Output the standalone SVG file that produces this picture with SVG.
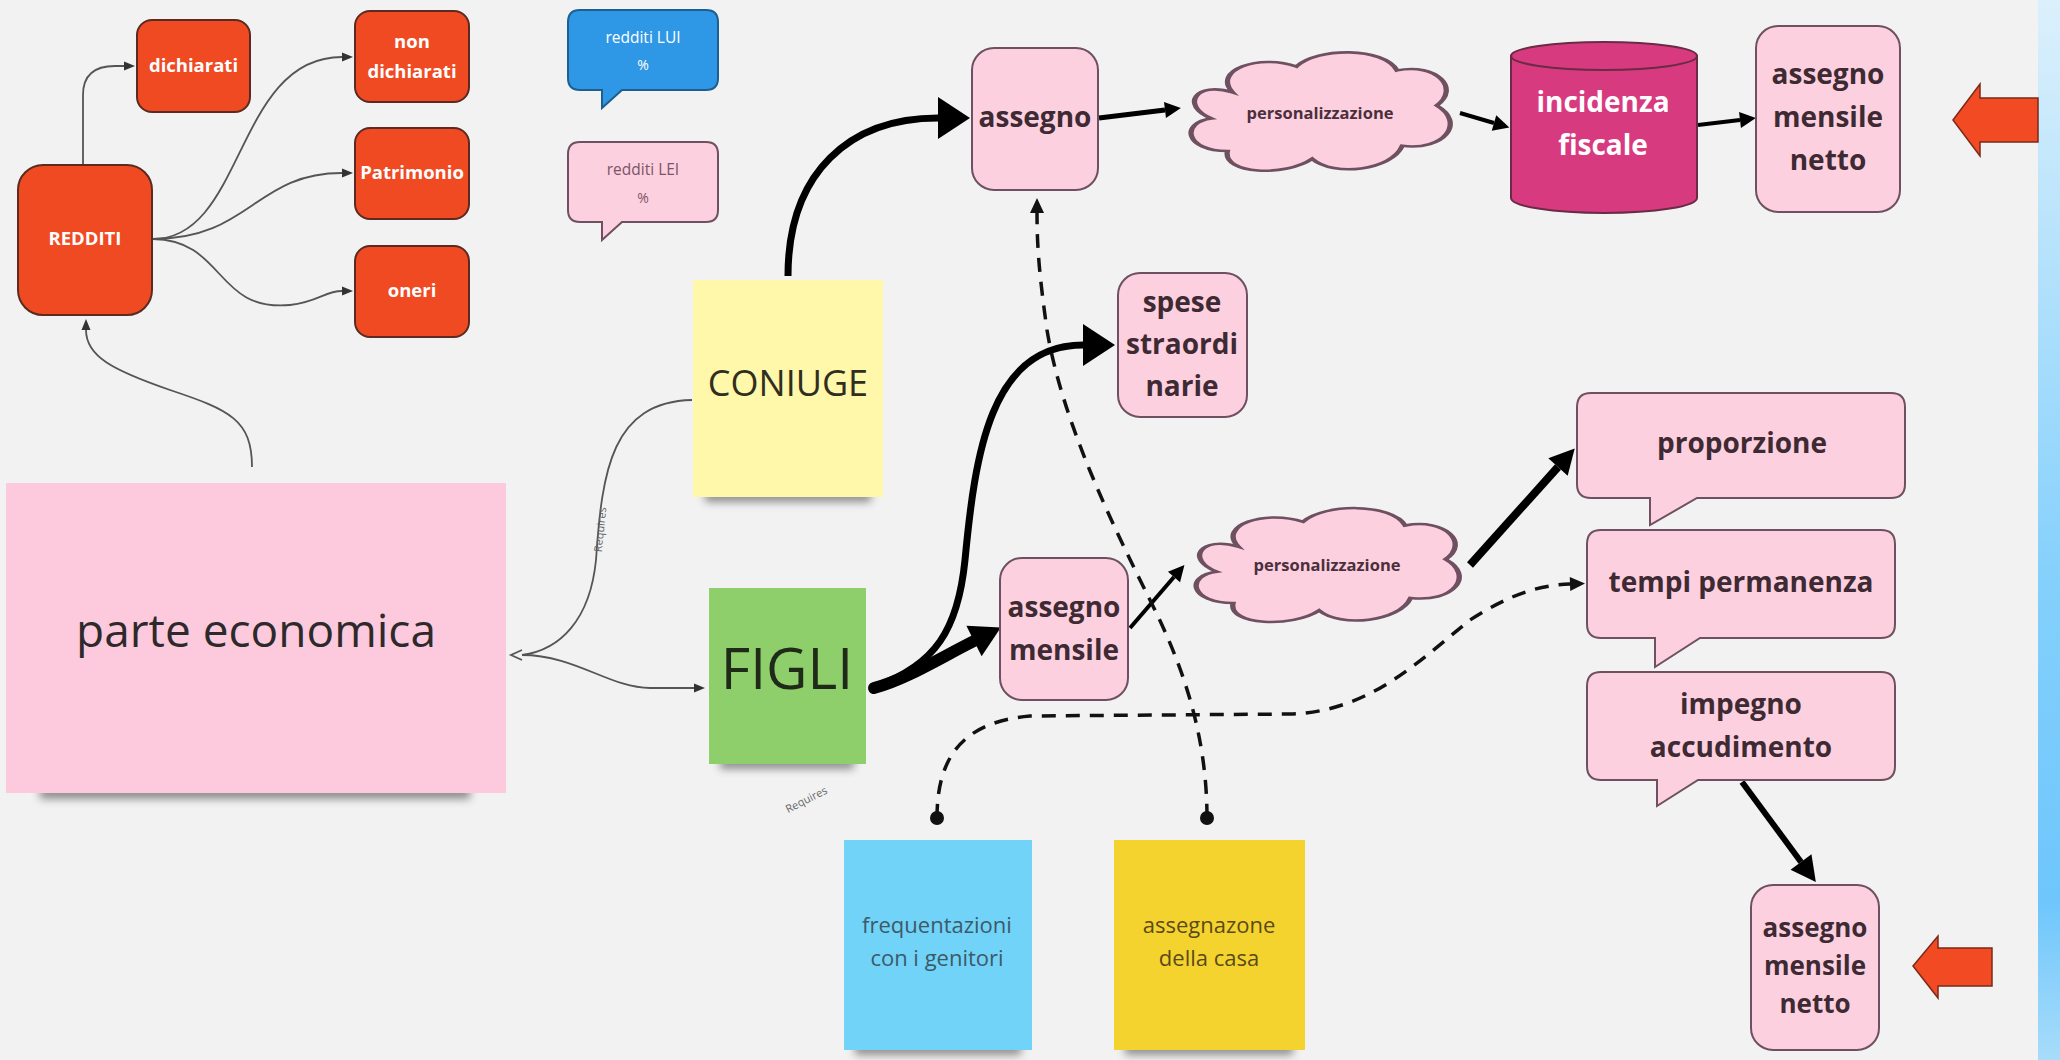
<svg xmlns="http://www.w3.org/2000/svg" width="2060" height="1060" viewBox="0 0 2060 1060">
<defs>
<style>
.t{font-family:"Open Sans","Noto Sans","DejaVu Sans",sans-serif}
.red{fill:#f04a23;stroke:#5b2a20;stroke-width:2}
.rt{font-family:"Open Sans","Noto Sans",sans-serif;font-weight:700;font-size:18.5px;fill:#fff;text-anchor:middle}
.pk{fill:#fdd0e0;stroke:#6e5060;stroke-width:2}
.pt{font-family:"Open Sans","Noto Sans",sans-serif;font-weight:700;font-size:28px;fill:#3d2a33;text-anchor:middle}
.st{font-family:"Open Sans","Noto Sans",sans-serif;font-weight:400;text-anchor:middle}
.cl{fill:#fdd0e0;stroke:#6e5060;stroke-width:2}
.ct{font-family:"Open Sans","Noto Sans",sans-serif;font-weight:700;font-size:16.5px;fill:#4a2f3c;text-anchor:middle}
.gray{fill:none;stroke:#555;stroke-width:1.8}
.blk{fill:none;stroke:#000}
.dash{fill:none;stroke:#111;stroke-width:3.5;stroke-dasharray:14 10}
.sh{fill:#3a3a3a;opacity:0.55;filter:url(#blur)}
.lbl{font-family:"Open Sans","Noto Sans",sans-serif;font-size:11px;fill:#666}
</style>
<filter id="blur" x="-20%" y="-200%" width="140%" height="500%"><feGaussianBlur stdDeviation="4"/></filter>
<linearGradient id="bar" x1="0" y1="0" x2="0" y2="1">
<stop offset="0" stop-color="#dcf0fc"/><stop offset="0.55" stop-color="#84d0fc"/><stop offset="0.85" stop-color="#6ec6fc"/><stop offset="1" stop-color="#a8dcfa"/>
</linearGradient>
<marker id="aGray" markerUnits="userSpaceOnUse" markerWidth="12" markerHeight="10" viewBox="0 -5 12 10" refX="0" refY="0" orient="auto" overflow="visible"><path d="M0,-4.5 L11,0 L0,4.5 Z" fill="#333"/></marker>
<marker id="aBig" markerUnits="userSpaceOnUse" markerWidth="34" markerHeight="46" viewBox="0 -23 34 46" refX="0" refY="0" orient="auto" overflow="visible"><path d="M0,-21 L32,0 L0,21 Z" fill="#000"/></marker>
<marker id="aFig" markerUnits="userSpaceOnUse" markerWidth="32" markerHeight="36" viewBox="0 -18 32 36" refX="0" refY="0" orient="auto" overflow="visible"><path d="M0,-17 L30,0 L0,17 Z" fill="#000"/></marker>
<marker id="aMed" markerUnits="userSpaceOnUse" markerWidth="26" markerHeight="28" viewBox="0 -14 26 28" refX="0" refY="0" orient="auto" overflow="visible"><path d="M0,-13 L25,0 L0,13 Z" fill="#000"/></marker>
<marker id="aSm" markerUnits="userSpaceOnUse" markerWidth="18" markerHeight="18" viewBox="0 -9 18 18" refX="0" refY="0" orient="auto" overflow="visible"><path d="M0,-8 L16,0 L0,8 Z" fill="#000"/></marker>
<marker id="aDash" markerUnits="userSpaceOnUse" markerWidth="16" markerHeight="16" viewBox="0 -8 16 16" refX="0" refY="0" orient="auto" overflow="visible"><path d="M0,-7 L15,0 L0,7 Z" fill="#111"/></marker>
<path id="cloud" d="M18,35 C10,18 28,5 42,15 C50,0 75,0 80,18 C95,12 104,32 95,45 C106,58 98,80 82,76 C78,95 56,100 48,86 C38,100 14,98 16,80 C0,80 -2,58 10,55 C-2,45 4,26 18,35 Z"/>
</defs>

<rect width="2060" height="1060" fill="#f2f2f2"/>
<rect x="2038" y="0" width="22" height="1060" fill="url(#bar)"/>

<g id="connectors">
<path class="gray" d="M83,165 L83,95 C83,74 95,66 115,66 L124,66" marker-end="url(#aGray)"/>
<path class="gray" d="M153,239 C245,239 235,57 342,57" marker-end="url(#aGray)"/>
<path class="gray" d="M153,239 C250,239 255,173 342,173" marker-end="url(#aGray)"/>
<path class="gray" d="M153,239 C225,240 215,312 290,305 C318,302 325,291 342,291" marker-end="url(#aGray)"/>
<path class="gray" d="M252,467 C252,420 230,410 170,390 C112,370 86,356 86,330" marker-end="url(#aGray)"/>
<path class="gray" d="M522,655 C560,650 590,620 596,560 C602,470 612,402 692,400"/>
<path class="gray" d="M522,655 C575,655 610,688 650,688 L694,688" marker-end="url(#aGray)"/>
<path d="M522,650 L511,655 L522,660" fill="none" stroke="#555" stroke-width="1.8"/>
<text class="lbl" transform="translate(604,530) rotate(-84)" text-anchor="middle">Requires</text>
<text class="lbl" transform="translate(808,803) rotate(-27)" text-anchor="middle">Requires</text>

<path class="blk" stroke-width="7" d="M788,276 C788,172 850,118 938,118" marker-end="url(#aBig)"/>
<path class="blk" stroke-width="5" d="M1099,118 L1165,110" marker-end="url(#aSm)"/>
<path class="blk" stroke-width="4" d="M1460,113 L1494,123" marker-end="url(#aSm)"/>
<path class="blk" stroke-width="4" d="M1698,125 L1740,120" marker-end="url(#aSm)"/>
<path class="blk" stroke-width="7" d="M876,686 C935,665 958,630 965,560 C975,455 990,345 1083,345" marker-end="url(#aBig)"/>
<path class="blk" stroke-width="12" stroke-linecap="round" d="M874,688 C905,680 940,658 974,641" marker-end="url(#aFig)"/>
<path class="blk" stroke-width="4" d="M1130,628 L1174,577" marker-end="url(#aSm)"/>
<path class="blk" stroke-width="8" d="M1470,565 L1558,467" marker-end="url(#aMed)"/>
<path class="blk" stroke-width="6" d="M1742,782 L1801,862" marker-end="url(#aMed)"/>

<path class="dash" d="M937,818 C937,760 960,722 1030,716 L1290,714 C1370,712 1420,660 1470,620 C1510,594 1540,585 1570,584" marker-end="url(#aDash)"/>
<path class="dash" d="M1207,818 C1207,730 1180,660 1150,600 C1110,520 1062,420 1047,330 C1040,280 1037,250 1037,213" marker-end="url(#aDash)"/>
<circle cx="937" cy="818" r="7" fill="#111"/>
<circle cx="1207" cy="818" r="7" fill="#111"/>
</g>

<g id="redditi"><rect class="red" x="18" y="165" width="134" height="150" rx="25"/><text class="rt" x="85" y="245">REDDITI</text></g>
<g id="dichiarati"><rect class="red" x="137" y="20" width="113" height="92" rx="15"/><text class="rt" x="193.5" y="72">dichiarati</text></g>
<g id="non-dichiarati"><rect class="red" x="355" y="11" width="114" height="91" rx="15"/><text class="rt" x="412" y="48">non</text><text class="rt" x="412" y="78">dichiarati</text></g>
<g id="patrimonio"><rect class="red" x="355" y="128" width="114" height="91" rx="15"/><text class="rt" x="412" y="179">Patrimonio</text></g>
<g id="oneri"><rect class="red" x="355" y="246" width="114" height="91" rx="15"/><text class="rt" x="412" y="297">oneri</text></g>

<g id="redditi-lui"><path d="M580,10 H706 Q718,10 718,22 V78 Q718,90 706,90 H622 L602,108 V90 H580 Q568,90 568,78 V22 Q568,10 580,10 Z" fill="#2f98e6" stroke="#1d5f8e" stroke-width="2"/><text class="st" x="643" y="43" font-size="15.5" font-weight="600" fill="#fff">redditi LUI</text><text class="st" x="643" y="70" font-size="14" font-weight="700" fill="#fff">%</text></g>
<g id="redditi-lei"><path d="M580,142 H706 Q718,142 718,154 V210 Q718,222 706,222 H622 L602,240 V222 H580 Q568,222 568,210 V154 Q568,142 580,142 Z" fill="#fdd0e0" stroke="#6e5060" stroke-width="2"/><text class="st" x="643" y="175" font-size="15.5" font-weight="600" fill="#7a5565">redditi LEI</text><text class="st" x="643" y="203" font-size="14" font-weight="600" fill="#7a5565">%</text></g>

<g id="parte-economica"><rect class="sh" x="40" y="785" width="430" height="14"/><rect x="6" y="483" width="500" height="310" fill="#fdcadd"/><text class="st" x="256" y="647" font-size="46" fill="#2e2a2c">parte economica</text></g>
<g id="coniuge"><rect class="sh" x="705" y="490" width="166" height="12"/><rect x="693" y="280" width="190" height="217" fill="#fff7aa"/><text class="st" x="788" y="396" font-size="36" fill="#2f2f20">CONIUGE</text></g>
<g id="figli"><rect class="sh" x="720" y="757" width="134" height="12"/><rect x="709" y="588" width="157" height="176" fill="#8fcf6b"/><text class="st" x="787" y="689" font-size="57" fill="#1f2a18">FIGLI</text></g>
<g id="frequentazioni"><rect class="sh" x="855" y="1043" width="166" height="12"/><rect x="844" y="840" width="188" height="210" fill="#72d3f8"/><text class="st" x="937" y="933" font-size="22" fill="#3c5a68">frequentazioni</text><text class="st" x="937" y="966" font-size="22" fill="#3c5a68">con i genitori</text></g>
<g id="assegnazione"><rect class="sh" x="1125" y="1043" width="168" height="12"/><rect x="1114" y="840" width="191" height="210" fill="#f5d32f"/><text class="st" x="1209" y="933" font-size="22" fill="#5a4a18">assegnazone</text><text class="st" x="1209" y="966" font-size="22" fill="#5a4a18">della casa</text></g>

<g id="assegno"><rect class="pk" x="972" y="48" width="126" height="142" rx="22"/><text class="pt" x="1035" y="127">assegno</text></g>
<g id="personalizzazione-1"><use href="#cloud" class="cl" transform="translate(1185,47) scale(2.65,1.3)" style="vector-effect:non-scaling-stroke"/><text class="ct" x="1320" y="119">personalizzazione</text></g>
<g id="incidenza-fiscale"><path d="M1511,56 V198 A93,15 0 0 0 1697,198 V56 Z" fill="#d83a80" stroke="#6b2a45" stroke-width="2"/><ellipse cx="1604" cy="56" rx="93" ry="14" fill="#d83a80" stroke="#6b2a45" stroke-width="2"/><text class="pt" x="1603" y="112" style="fill:#fff">incidenza</text><text class="pt" x="1603" y="155" style="fill:#fff">fiscale</text></g>
<g id="assegno-mensile-netto-1"><rect class="pk" x="1756" y="26" width="144" height="186" rx="22"/><text class="pt" x="1828" y="84">assegno</text><text class="pt" x="1828" y="127">mensile</text><text class="pt" x="1828" y="170">netto</text></g>
<g id="spese-straordinarie"><rect class="pk" x="1118" y="273" width="129" height="144" rx="22"/><text class="pt" x="1182" y="312">spese</text><text class="pt" x="1182" y="354">straordi</text><text class="pt" x="1182" y="396">narie</text></g>
<g id="assegno-mensile"><rect class="pk" x="1000" y="558" width="128" height="142" rx="22"/><text class="pt" x="1064" y="617">assegno</text><text class="pt" x="1064" y="660">mensile</text></g>
<g id="personalizzazione-2"><use href="#cloud" class="cl" transform="translate(1190,503) scale(2.69,1.25)" style="vector-effect:non-scaling-stroke"/><text class="ct" x="1327" y="571">personalizzazione</text></g>
<g id="proporzione"><path class="pk" d="M1591,393 H1891 Q1905,393 1905,407 V484 Q1905,498 1891,498 H1697 L1650,525 V498 H1591 Q1577,498 1577,484 V407 Q1577,393 1591,393 Z"/><text class="pt" x="1742" y="453">proporzione</text></g>
<g id="tempi-permanenza"><path class="pk" d="M1601,530 H1881 Q1895,530 1895,544 V624 Q1895,638 1881,638 H1700 L1655,667 V638 H1601 Q1587,638 1587,624 V544 Q1587,530 1601,530 Z"/><text class="pt" x="1741" y="592">tempi permanenza</text></g>
<g id="impegno-accudimento"><path class="pk" d="M1601,672 H1881 Q1895,672 1895,686 V766 Q1895,780 1881,780 H1698 L1657,806 V780 H1601 Q1587,780 1587,766 V686 Q1587,672 1601,672 Z"/><text class="pt" x="1741" y="714">impegno</text><text class="pt" x="1741" y="757">accudimento</text></g>
<g id="assegno-mensile-netto-2"><rect class="pk" x="1751" y="885" width="128" height="165" rx="22"/><text class="pt" x="1815" y="937" style="font-size:26px">assegno</text><text class="pt" x="1815" y="975" style="font-size:26px">mensile</text><text class="pt" x="1815" y="1013" style="font-size:26px">netto</text></g>

<g id="red-arrow-1"><path d="M1953,120 L1980,84 V98 H2038 V142 H1980 V156 Z" fill="#f24a22" stroke="#7a2a1a" stroke-width="1.5"/></g>
<g id="red-arrow-2"><path d="M1913,966 L1938,936 V948 H1992 V986 H1938 V998 Z" fill="#f24a22" stroke="#7a2a1a" stroke-width="1.5"/></g>
</svg>
